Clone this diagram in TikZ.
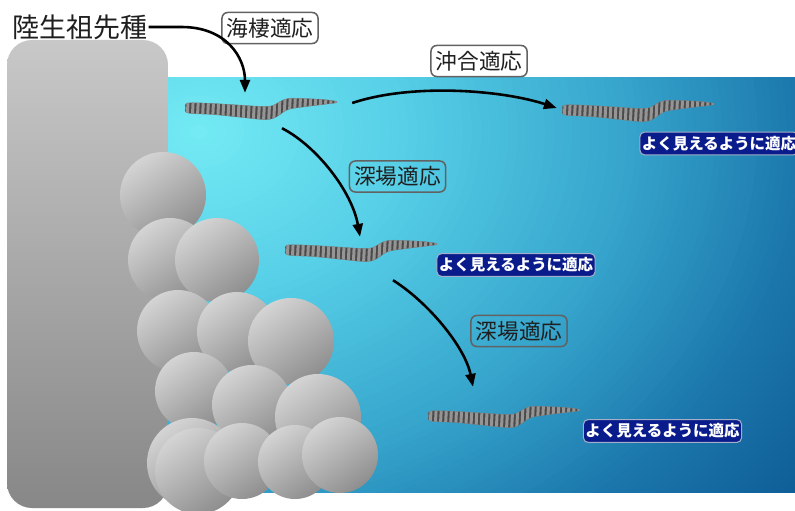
\documentclass[tikz,border=0pt]{standalone}
\usepackage{fontspec}
\newfontfamily\jp{Noto Sans CJK JP}
\usetikzlibrary{arrows.meta,calc}

% sea colours, from the shallow lit corner to the deep water
\definecolor{w0}{HTML}{74EBF4}
\definecolor{w1}{HTML}{55CDE6}
\definecolor{w2}{HTML}{35A3CB}
\definecolor{w3}{HTML}{1B76AB}
\definecolor{w4}{HTML}{0C5993}
\definecolor{rocklight}{HTML}{D4D4D4}
\definecolor{rockdark}{HTML}{8E8E8E}
\definecolor{clifftop}{HTML}{C8C8C8}
\definecolor{cliffbot}{HTML}{878787}
\definecolor{stripedark}{HTML}{646464}
\definecolor{stripelight}{HTML}{C8C8C8}
\definecolor{navybox}{HTML}{0A1C8C}
\definecolor{navyrim}{HTML}{A4AEC8}
\definecolor{labelrim}{HTML}{626262}

\begin{document}
\begin{tikzpicture}[x=0.03cm,y=-0.03cm,
  lbl/.style={draw=labelrim, line width=1.3pt, rounded corners=5pt,
    font=\jp\fontsize{18.5}{21}\selectfont, text=black!88,
    minimum width=82pt, minimum height=26.5pt, inner sep=2pt},
  visbox/.style={fill=navybox, draw=navyrim, line width=0.9pt,
    rounded corners=4pt, text=white,
    font=\jp\bfseries\fontsize{13.2}{15}\selectfont,
    minimum width=135pt, minimum height=19.5pt, inner sep=1pt},
  arr/.style={line width=2.2pt, -{Triangle[length=11pt,width=8.5pt]}},
  snakearea/.style={minimum width=4.5cm, minimum height=0.66cm, inner sep=0pt},
  rock/.style={top color=rocklight, bottom color=rockdark, shading angle=35},
  seasnake/.pic={
    \def\body{plot[smooth cycle, tension=0.55] coordinates {
      (-2.5,0) (0,-5) (25,-4.5) (50,-3) (75,-1.5) (85,-2.5) (92,-6.5) (100,-9.5)
      (115,-9.5) (135,-8.5) (147,-7) (149,-6) (147,-5) (135,-3.5) (115,-1)
      (100,1.5) (92,6.5) (85,10.5) (75,11.5) (50,9) (25,6.5) (0,5)}}
    \begin{scope}
      \clip \body;
      \fill[stripedark] (-4,-16) rectangle (152,16);
      \foreach \i in {0,...,29}
        \fill[stripelight] (\i*5.1-1,-16) -- ++(3,0) -- ++(-1.6,32) -- ++(-3,0) -- cycle;
      \shade[top color=black, middle color=white, bottom color=black, fill opacity=0.25]
        (-4,-13) rectangle (152,13);
    \end{scope}
    \draw[black!50, line width=0.5pt, opacity=0.5] \body;
  }]

\clip (0,0) rectangle (795,510);
\fill[white] (0,0) rectangle (795,510);

% the sea: a glow of nested ellipses around the lit corner
\begin{scope}
  \clip (168,78) rectangle (800,492);
  \fill[w4] (168,78) rectangle (800,492);
  \foreach \fa/\fb/\ca/\cb in {0.78/1.0/w3/w4, 0.56/0.78/w2/w3,
                               0.28/0.56/w1/w2, 0/0.28/w0/w1} {
    \foreach \i in {24,...,1} {
      \pgfmathsetmacro\ff{\fa+(\fb-\fa)*\i/24}
      \pgfmathtruncatemacro\pc{100*\i/24}
      \fill[\cb!\pc!\ca] (199,132) ellipse [x radius=\ff*780, y radius=\ff*620];
    }
  }
\end{scope}

% the cliff of the shore
\shade[top color=clifftop, bottom color=cliffbot, rounded corners=0.75cm]
  (7,40) rectangle (168,508);

% boulders piled at the foot of the cliff
\foreach \cx/\cy/\r in {
  163/195/43,
  170/260/42, 217/260/42,
  178/331/41, 237/332/40, 291/341/43,
  194/391/39, 252/405/40, 318/417/43,
  192/463/45, 198/471/43, 242/461/38, 295/462/37, 340/455/38}
  \shade[rock] (\cx,\cy) circle[radius=\r];

% sea snakes
\pic at (188,108) {seasnake};
\pic at (565,110) {seasnake};
\pic at (288,250) {seasnake};
\pic at (431,416) {seasnake};
\node[snakearea] (s1) at (262,108) {};
\node[snakearea] (s2) at (639,110) {};
\node[snakearea] (s3) at (362,250) {};
\node[snakearea] (s4) at (505,416) {};

% texts
\node[anchor=west, inner sep=1pt, font=\jp\fontsize{23}{26}\selectfont, text=black!88]
  (anc) at (11,27) {陸生祖先種};
\node[lbl] (l1) at (270,28) {海棲適応};
\node[lbl] (l2) at (479,61) {沖合適応};
\node[lbl] (l3) at (397.5,176.5) {深場適応};
\node[lbl] (l4) at (519,331) {深場適応};
\node[visbox] (v1) at (719,143.5) {よく見えるように適応};
\node[visbox] (v2) at (516,265) {よく見えるように適応};
\node[visbox] (v3) at (662.5,431) {よく見えるように適応};

% transitions between the forms
\draw[arr] (anc.east) -- ++(33,0) .. controls +(45,0) and +(0,-35) ..
  ([shift={(-17,-4)}]s1.north);
\draw[arr] ([shift={(15,-5)}]s1.east) .. controls +(60,-20) and +(-55,-18) ..
  ([shift={(-7,-2)}]s2.west);
\draw[arr] ([shift={(20,9)}]s1.south) .. controls +(35,18) and +(-8,-45) ..
  ([shift={(-2,-2)}]s3.north);
\draw[arr] ([shift={(31,19)}]s3.south) .. controls +(35,22) and +(-8,-40) ..
  ([shift={(-32,-18)}]s4.north);
\end{tikzpicture}
\end{document}
